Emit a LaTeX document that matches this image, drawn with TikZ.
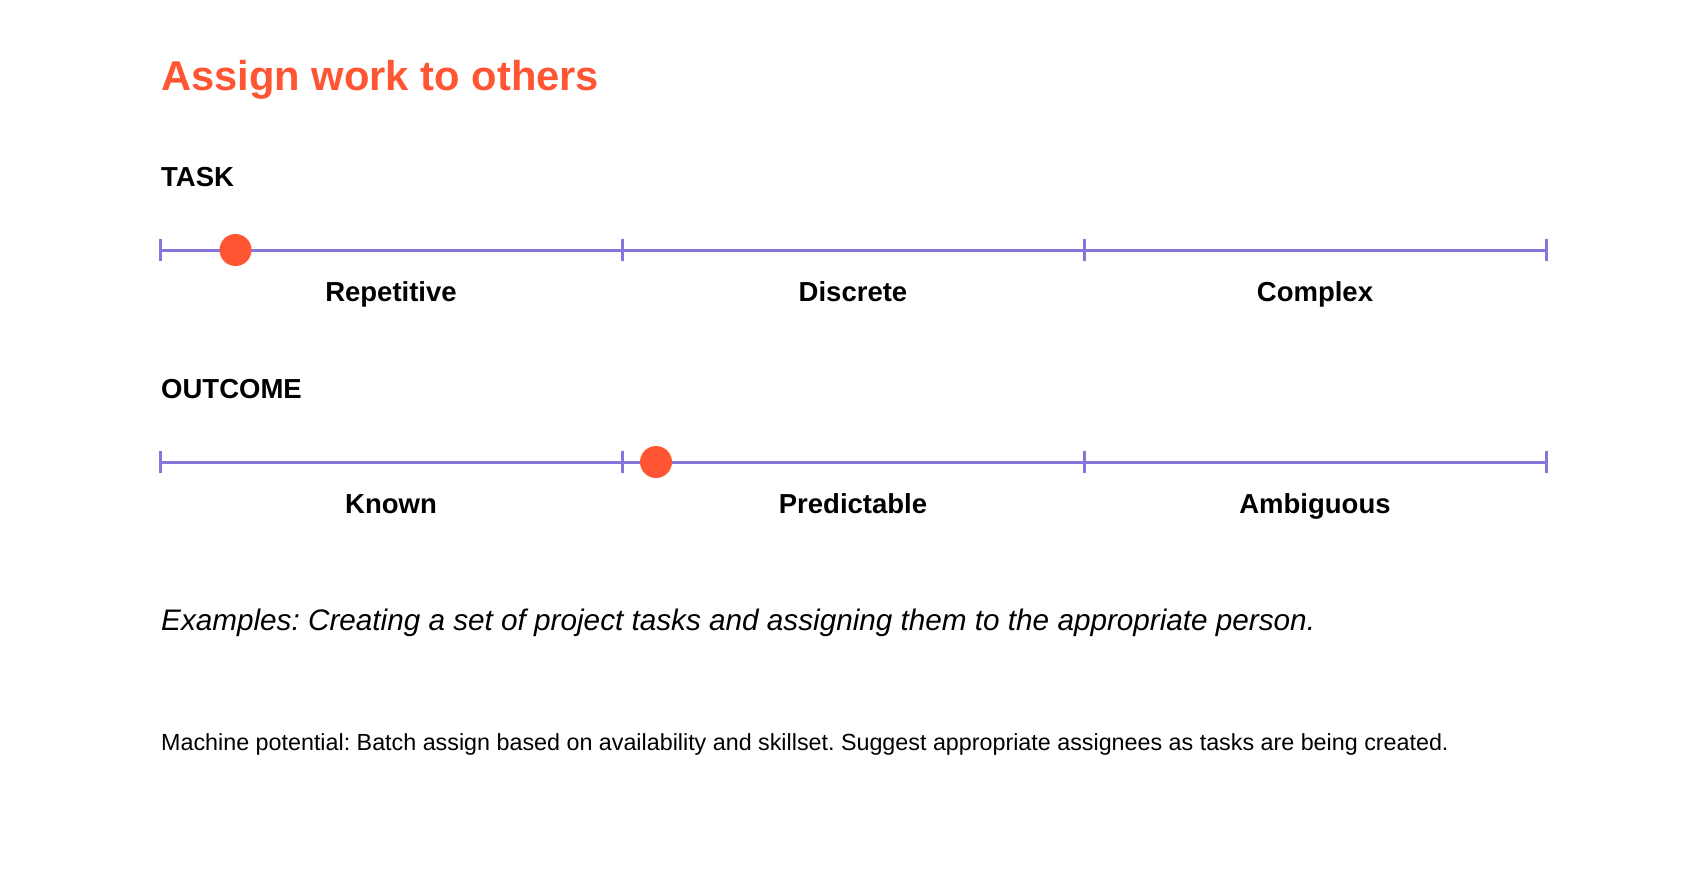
\documentclass[tikz,border=0pt]{standalone}
\usepackage{fontspec}
\setmainfont{Liberation Sans}
\definecolor{accent}{HTML}{FF5533}
\definecolor{scale}{HTML}{8676DC}
\tikzset{
  scaleline/.style={draw=scale, line width=3pt},
  tickmark/.style={draw=scale, line width=3pt},
  marker/.style={circle, fill=accent, minimum size=32pt, inner sep=0pt},
  heading/.style={anchor=base west, inner sep=0pt, font=\fontsize{27.5}{32}\selectfont\bfseries},
  catlabel/.style={anchor=base, inner sep=0pt, font=\fontsize{27.5}{31}\selectfont\bfseries},
}
\begin{document}
\frenchspacing
\begin{tikzpicture}[x=1pt,y=-1pt]
\useasboundingbox[fill=white] (0,0) rectangle (1706,872);
\node[anchor=base west, inner sep=0pt, text=accent, font=\fontsize{41.7}{50}\selectfont\bfseries] (title) at (161,90.7) {Assign work to others};
% TASK
\node[heading] (task) at (161,186) {TASK};
\foreach \i/\x in {0/160,1/622,2/1084,3/1546} {
  \coordinate (a\i) at (\x,250);
  \draw[tickmark] (\x,239) -- (\x,261);
}
\draw[scaleline] (a0) -- (a3);
\node[marker] (dot1) at (235.5,250) {};
\node[catlabel] (rep) at (391,301.7) {Repetitive};
\node[catlabel] (dis) at (853,301.7) {Discrete};
\node[catlabel] (com) at (1315,301.7) {Complex};
% OUTCOME
\node[heading] (outcome) at (161,398) {OUTCOME};
\foreach \i/\x in {0/160,1/622,2/1084,3/1546} {
  \coordinate (b\i) at (\x,462);
  \draw[tickmark] (\x,451) -- (\x,473);
}
\draw[scaleline] (b0) -- (b3);
\node[marker] (dot2) at (656,462) {};
\node[catlabel] (kno) at (391,513.7) {Known};
\node[catlabel] (pre) at (853,513.7) {Predictable};
\node[catlabel] (amb) at (1315,513.7) {Ambiguous};
% texts
\node[anchor=base west, inner sep=0pt, font=\fontsize{29.7}{36}\selectfont\itshape] (ex) at (161,630.7) {Examples: Creating a set of project tasks and assigning them to the appropriate person.};
\node[anchor=base west, inner sep=0pt, font=\fontsize{23.3}{28}\selectfont] (mp) at (161,750) {Machine potential: Batch assign based on availability and skillset. Suggest appropriate assignees as tasks are being created.};
\end{tikzpicture}
\end{document}
